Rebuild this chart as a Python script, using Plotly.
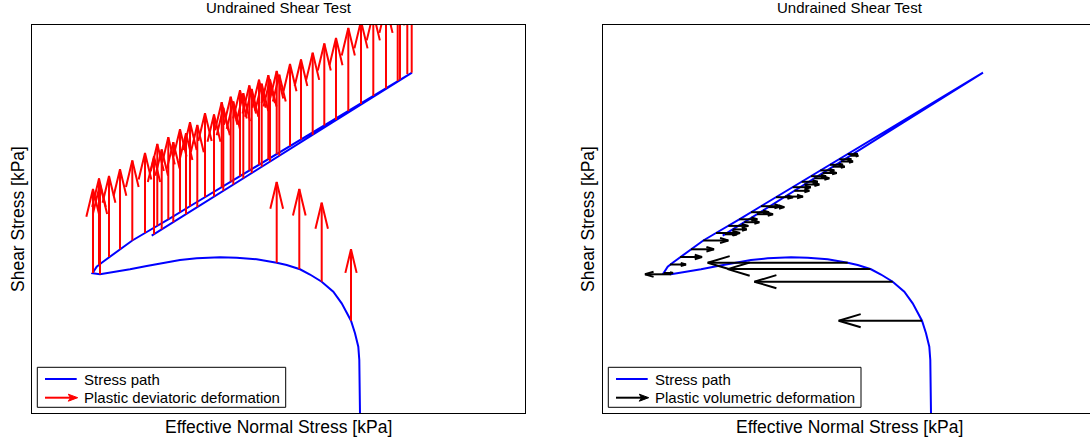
import math
import plotly.graph_objects as go

# ---------------- data (chart units; no ticks shown on the original) ----------------
# stress path: effective normal stress p' and shear stress q
path_p = [328, 327.3, 326.3, 323, 319, 315.3, 309.7, 301.3, 289.7, 278, 268, 254.7, 244.7, 224.7, 204.7,
          188, 164.7, 148, 131.3, 114.7, 98, 81.3, 68, 60.5,
          64.7, 69.7, 78, 88, 100.3, 113, 125.3, 138, 160, 194, 227, 264, 298, 331, 380,
          300, 200, 119.7]
path_q = [0, 53, 66.3, 79.7, 92.3, 99.7, 109.7, 121.3, 131.3, 138.5, 143.7, 148, 150.3, 153.7, 155.3,
          155.7, 154.7, 153, 150.3, 147, 143.7, 140.7, 138.7, 139.7,
          146.3, 150.3, 156.3, 163.7, 172.5, 180, 187.1, 194.7, 208, 228.4, 248.2, 270.5, 291, 310.7, 340.3,
          290.3, 227.6, 177.3]

# plastic points on the path
pl_p = [61, 68, 67, 77, 88, 100.3, 113, 122, 125.3, 129.7, 136.3, 141.3, 148, 154, 158, 165.3, 173, 182,
        189.7, 191.3, 198.7, 201.3, 208, 211.3, 217.3, 219.7, 227, 229.7, 236.3, 238, 244.7, 247.3,
        258, 269, 280.7, 292.3, 304, 316.3, 329, 341.3, 354, 365.7, 368, 375.3, 379.7,
        244.7, 267.3, 289.7, 319]
pl_q = [140, 138.7, 148.5, 156, 163.7, 172.5, 180, 178.7, 187.1, 183.6, 193.7, 190.8, 200.8, 198.8, 206.8,
        205.9, 215.8, 216.4, 225.8, 222.2, 231.2, 228.5, 236.8, 234.7, 242.6, 240.0, 248.2, 246.3, 253.7,
        251.5, 258.9, 257.3, 266.9, 273.5, 278.2, 287.5, 292.9, 301.9, 309, 317, 324.5, 332, 333.5, 339,
        340.3,
        150.3, 143.9, 131.3, 92.3]
# plastic deviatoric deformation (vertical component, left panel)
dev_def = [84, 90, 86, 81, 80, 80, 80, 78, 82, 80, 82, 80, 83, 81, 84, 82, 84, 82, 85, 83, 85, 83, 86, 85,
           85, 84, 85, 83, 84, 82, 83, 81, 82, 80, 82, 82, 82, 83, 83, 83, 83, 83, 83, 83, 83,
           80.6, 80, 79, 71.4]
# plastic volumetric deformation (horizontal component, right panel)
vol_def = [9, -26, 16, 22, 23, 25, 24, 12, 20, 14, 18, 15, 18, 16, 20, 16, 17, 18, 18, 15, 16, 15, 15, 15,
           14, 14, 13, 12, 12, 12, 10, 8, 0, 0, 0, 0, 0, 0, 0, 0, 0, 0, 0, 0, 0,
           -140, -142.6, -138.3, -83.3]

TITLE = "Undrained Shear Test"
XLAB = "Effective Normal Stress [kPa]"
YLAB = "Shear Stress [kPa]"
FONT = "Liberation Sans, Arial, Helvetica, sans-serif"


def quiver(px, py, u, v, cap, ratio):
    xs, ys = [], []
    for x0, y0, du, dv in zip(px, py, u, v):
        L = math.hypot(du, dv)
        if L == 0:
            continue
        x1, y1 = x0 + du, y0 + dv
        dx, dy = du / L, dv / L
        h = min(0.33 * L, cap)
        w = ratio * h
        bx, by = x1 - h * dx, y1 - h * dy
        nx, ny = -dy, dx
        xs += [x0, x1, None, bx + w * nx, x1, bx - w * nx, None]
        ys += [y0, y1, None, by + w * ny, y1, by - w * ny, None]
    return xs, ys


W, H = 1090, 441
ML, MR, MT, MB = 32, 0, 25, 28
PW = W - ML - MR
PH = H - MT - MB

fig = go.Figure()

zeros = [0] * len(pl_p)
# left panel
fig.add_trace(go.Scatter(x=path_p, y=path_q, mode="lines", line=dict(color="#0000ff", width=2),
                         xaxis="x", yaxis="y", showlegend=False, hoverinfo="skip"))
rx, ry = quiver(pl_p, pl_q, zeros, dev_def, 30, 0.24)
fig.add_trace(go.Scatter(x=rx, y=ry, mode="lines", line=dict(color="#ff0000", width=2),
                         xaxis="x", yaxis="y", showlegend=False, hoverinfo="skip"))
# right panel
fig.add_trace(go.Scatter(x=path_p, y=path_q, mode="lines", line=dict(color="#0000ff", width=2),
                         xaxis="x2", yaxis="y2", showlegend=False, hoverinfo="skip"))
bx_, by_ = quiver(pl_p, pl_q, vol_def, zeros, 22, 0.3)
fig.add_trace(go.Scatter(x=bx_, y=by_, mode="lines", line=dict(color="#000000", width=2),
                         xaxis="x2", yaxis="y2", showlegend=False, hoverinfo="skip"))

left_w = 493
right_start = 603 - ML
axis_common = dict(showgrid=False, zeroline=False, showticklabels=False, ticks="",
                   showline=True, linecolor="black", linewidth=1)
fig.update_layout(
    width=W, height=H, margin=dict(l=ML, r=MR, t=MT, b=MB),
    paper_bgcolor="white", plot_bgcolor="white",
    xaxis=dict(domain=[0, left_w / PW], range=[0, 493], mirror=True, anchor="y", **axis_common),
    yaxis=dict(domain=[0, 1], range=[0, 388], mirror=True, anchor="x", **axis_common),
    xaxis2=dict(domain=[right_start / PW, 1], range=[0, PW - right_start], mirror=True, anchor="y2",
                **axis_common),
    yaxis2=dict(domain=[0, 1], range=[0, 388], mirror=False, anchor="x2", **axis_common),
    font=dict(family=FONT, color="black"),
)


def px(xp):
    return (xp - ML) / PW


def py(yp):
    return (H - MB - yp) / PH


ann = []
for cx, ylx in [(278.5, 18), (849.5, 588)]:
    ann.append(dict(text=TITLE, x=px(cx), y=py(8), xref="paper", yref="paper", showarrow=False,
                    xanchor="center", yanchor="middle", font=dict(size=15)))
    ann.append(dict(text=XLAB, x=px(cx), y=py(427), xref="paper", yref="paper", showarrow=False,
                    xanchor="center", yanchor="middle", font=dict(size=17.5)))
    ann.append(dict(text=YLAB, x=px(ylx), y=py(219), xref="paper", yref="paper", showarrow=False,
                    xanchor="center", yanchor="middle", textangle=-90, font=dict(size=17.5)))

shapes = []
for xr, yr, label2, col, bw in [("x", "y", "Plastic deviatoric deformation", "#ff0000", 253.7),
                                ("x2", "y2", "Plastic volumetric deformation", "#000000", 258)]:
    shapes.append(dict(type="rect", xref=xr, yref=yr, x0=5.3, x1=bw, y0=5.7, y1=45.7,
                       line=dict(color="black", width=1), fillcolor="white", layer="above"))
    shapes.append(dict(type="line", xref=xr, yref=yr, x0=13, x1=44.7, y0=34, y1=34,
                       line=dict(color="#0000ff", width=2), layer="above"))
    shapes.append(dict(type="line", xref=xr, yref=yr, x0=13, x1=39, y0=15.3, y1=15.3,
                       line=dict(color=col, width=2), layer="above"))
    shapes.append(dict(type="path", xref=xr, yref=yr,
                       path="M 45.7,15.3 L 36.3,18.8 L 38.5,15.3 L 36.3,11.8 Z",
                       line=dict(color=col, width=1), fillcolor=col, layer="above"))
    ann.append(dict(text="Stress path", x=49.7, y=34, xref=xr, yref=yr, showarrow=False,
                    xanchor="left", yanchor="middle", font=dict(size=15)))
    ann.append(dict(text=label2, x=49.7, y=15.3, xref=xr, yref=yr, showarrow=False,
                    xanchor="left", yanchor="middle", font=dict(size=15)))

fig.update_layout(annotations=ann, shapes=shapes)
fig.write_html("out.html", config={"displayModeBar": False},
               post_script="document.body.style.margin='0';document.body.style.overflow='hidden';")
